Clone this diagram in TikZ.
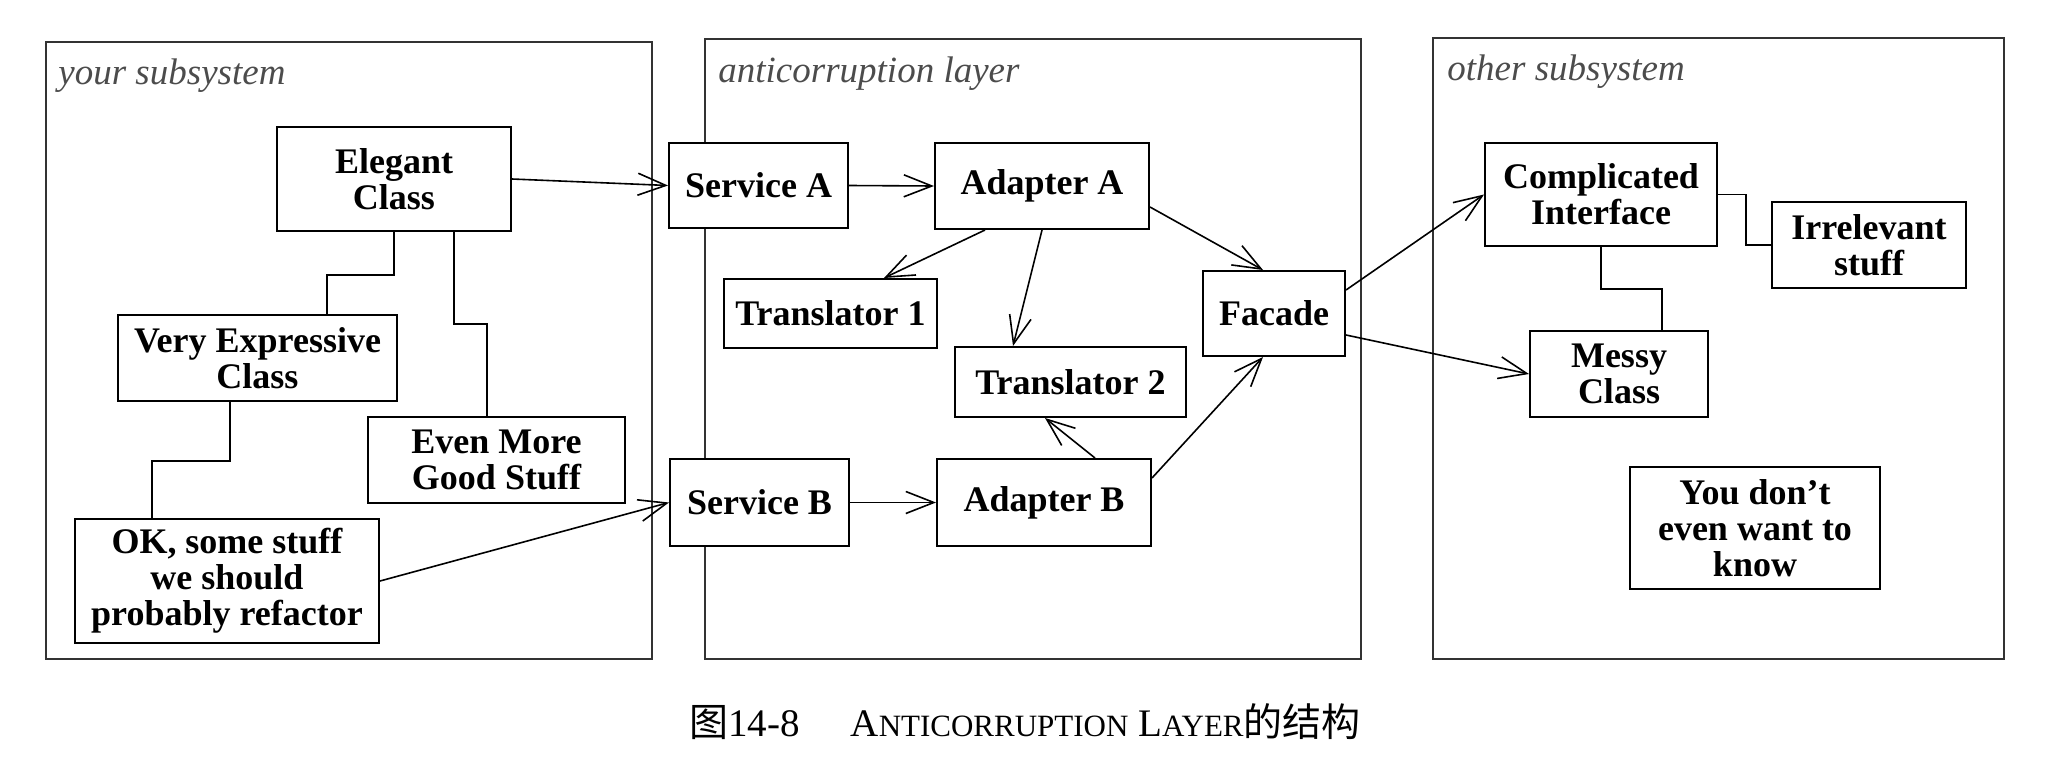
\documentclass[tikz,border=0pt]{standalone}
\usepackage{fontspec}
\setmainfont{Liberation Serif}
\newfontfamily\cjk{Noto Sans CJK SC}
\usetikzlibrary{arrows.meta}

\tikzset{
  panel/.style={draw=black!80, line width=0.7pt},
  title/.style={anchor=base west, inner sep=0pt, text=black!70,
    font=\itshape\fontsize{18.5}{20}\selectfont},
  cls/.style={draw, fill=white, line width=1pt, align=center, inner sep=0pt,
    font=\bfseries\fontsize{18}{18}\selectfont},
  assoc/.style={line width=0.8pt},
  dep/.style={line width=0.8pt, -{Straight Barb[length=14pt,width=11pt]}}
}

\begin{document}
\begin{tikzpicture}[x=0.5pt,y=-0.5pt]
  \useasboundingbox (0,0) rectangle (2046,766);
  % subsystem frames
  \draw[panel] (46,42) rectangle (652,659);
  \draw[panel] (705,39) rectangle (1361,659);
  \draw[panel] (1433,38) rectangle (2004,659);
  \node[title] (ttlyour) at (58,84) {your subsystem};
  \node[title] (ttlacl) at (718,82) {anticorruption layer};
  \node[title] (ttlother) at (1447,80) {other subsystem};

  % your subsystem
  \node[cls, minimum width=117pt, minimum height=52pt] (elegant) at (394,179) {Elegant\\Class};
  \node[cls, minimum width=139.5pt, minimum height=43pt] (veryexp) at (257.5,358) {Very Expressive\\Class};
  \node[cls, minimum width=128.5pt, minimum height=43pt] (evenmore) at (496.5,460) {Even More\\Good Stuff};
  \node[cls, minimum width=152pt, minimum height=62pt] (okstuff) at (227,581) {OK, some stuff\\we should\\probably refactor};

  % anticorruption layer
  \node[cls, minimum width=89.5pt, minimum height=42.5pt] (servA) at (758.5,185.5) {Service A};
  \node[cls, minimum width=107pt, minimum height=43pt] (adaptA) at (1042,186) {Adapter A};
  \node[cls, minimum width=106.5pt, minimum height=34.5pt] (trans1) at (830.5,313.5) {Translator 1};
  \node[cls, minimum width=115.5pt, minimum height=35pt] (trans2) at (1070.5,382) {Translator 2};
  \node[cls, minimum width=71pt, minimum height=42.5pt] (facade) at (1274,313.5) {Facade};
  \node[cls, minimum width=89.5pt, minimum height=43.5pt] (servB) at (759.5,502.5) {Service B};
  \node[cls, minimum width=107pt, minimum height=43.5pt] (adaptB) at (1044,502.5) {Adapter B};

  % other subsystem
  \node[cls, minimum width=116pt, minimum height=51.5pt] (compl) at (1601,194.5) {Complicated\\Interface};
  \node[cls, minimum width=97pt, minimum height=43pt] (irrel) at (1869,245) {Irrelevant\\stuff};
  \node[cls, minimum width=89pt, minimum height=43pt] (messy) at (1619,374) {Messy\\Class};
  \node[cls, minimum width=125pt, minimum height=61pt] (dontknow) at (1755,528) {You don’t\\even want to\\know};

  % plain links
  \draw[assoc] (elegant.south) -- ++(0,43) -| ([xshift=34.75pt]veryexp.north);
  \draw[assoc] ([xshift=30pt]elegant.south) -- ++(0,92) -| ([xshift=-4.75pt]evenmore.north);
  \draw[assoc] ([xshift=-13.75pt]veryexp.south) -- ++(0,59) -| ([xshift=-37.5pt]okstuff.north);
  \draw[assoc] (compl.east) -- ++(28,0) |- (irrel.west);
  \draw[assoc] (compl.south) -- ++(0,42) -| ([xshift=21.5pt]messy.north);

  % arrows
  \draw[dep] (elegant.east) -- (servA.west);
  \draw[dep] (okstuff.east) -- (servB.west);
  \draw[dep] (servA.east) -- (adaptA.west);
  \draw[dep] (servB.east) -- (adaptB.west);
  \draw[dep] ([xshift=-28.5pt]adaptA.south) -- ([xshift=26.75pt]trans1.north);
  \draw[dep] (adaptA.south) -- ([xshift=-28.75pt]trans2.north);
  \draw[dep] ([yshift=-10.5pt]adaptA.east) -- ([xshift=-5.5pt]facade.north);
  \draw[dep] ([xshift=25.5pt]adaptB.north) -- ([xshift=-12.75pt]trans2.south);
  \draw[dep] ([yshift=12.25pt]adaptB.east) -- ([xshift=-5.5pt]facade.south);
  \draw[dep] ([yshift=11.75pt]facade.east) -- (compl.west);
  \draw[dep] ([yshift=-10.75pt]facade.east) -- (messy.west);

  % caption
  \node[inner sep=0pt, font=\fontsize{19.5}{20}\selectfont] (caption) at (1025,722)
    {{\cjk 图}14-8\hspace{1.3em}A{\fontsize{15.5}{16}\selectfont NTICORRUPTION} L{\fontsize{15.5}{16}\selectfont AYER}{\cjk 的结构}};
\end{tikzpicture}
\end{document}
